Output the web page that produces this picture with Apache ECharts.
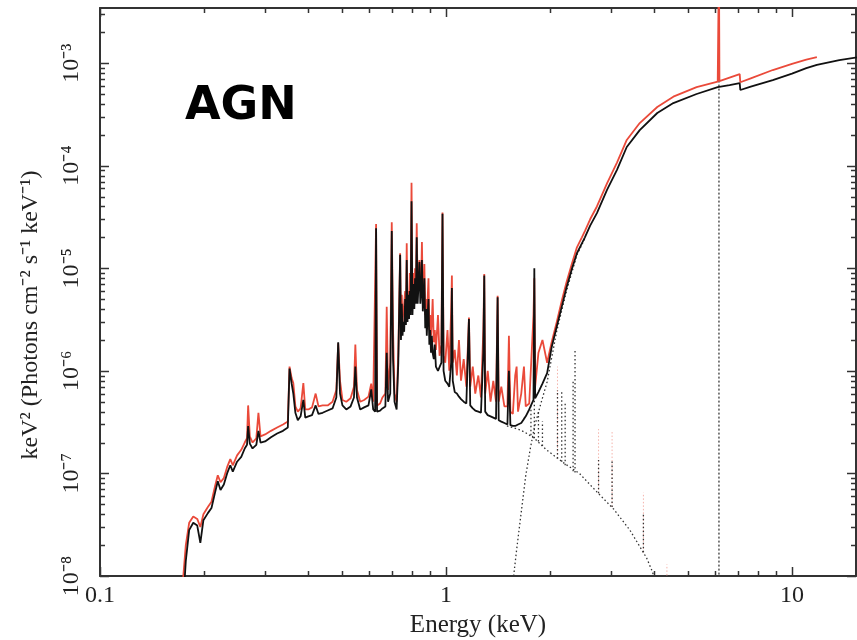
<!DOCTYPE html>
<html>
<head>
<meta charset="utf-8">
<script src="https://cdn.jsdelivr.net/npm/echarts@6/dist/echarts.min.js"></script>
<style>
  html, body { margin: 0; padding: 0; background: #fff; }
  #chart { width: 857px; height: 640px; }
</style>
</head>
<body>
<div id="chart"></div>
<script>
// energy grid (keV) shared by the two total-model curves
var energy = [
  0.172, 0.177, 0.181, 0.186, 0.191, 0.195, 0.199, 0.205, 0.210, 0.215,
  0.219, 0.223, 0.228, 0.233, 0.238, 0.242, 0.249, 0.256, 0.262, 0.266,
  0.268, 0.271, 0.276, 0.283, 0.287, 0.291, 0.300, 0.312, 0.325, 0.338,
  0.349, 0.353, 0.358, 0.362, 0.367, 0.373, 0.380, 0.387, 0.392, 0.400,
  0.410, 0.420, 0.428, 0.440, 0.455, 0.470, 0.482, 0.488, 0.494, 0.502,
  0.515, 0.530, 0.542, 0.547, 0.553, 0.565, 0.580, 0.597, 0.608, 0.616,
  0.624, 0.628, 0.632, 0.645, 0.655, 0.668, 0.674, 0.680, 0.690, 0.697,
  0.703, 0.710, 0.720, 0.728, 0.737, 0.741, 0.745, 0.749, 0.752, 0.757,
  0.762, 0.766, 0.770, 0.774, 0.778, 0.782, 0.786, 0.790, 0.795, 0.800,
  0.805, 0.810, 0.814, 0.818, 0.823, 0.828, 0.833, 0.838, 0.843, 0.848,
  0.852, 0.857, 0.862, 0.866, 0.871, 0.876, 0.880, 0.885, 0.890, 0.895,
  0.900, 0.905, 0.910, 0.915, 0.922, 0.928, 0.935,
  0.948, 0.958, 0.970, 0.977, 0.984, 0.995, 1.010, 1.022, 1.035, 1.040,
  1.046, 1.060, 1.075, 1.090, 1.105, 1.125, 1.145, 1.165, 1.175, 1.195,
  1.215, 1.240, 1.262, 1.282, 1.290, 1.298, 1.320, 1.345, 1.370, 1.395,
  1.410, 1.420, 1.445, 1.475, 1.505, 1.520, 1.535, 1.560, 1.585, 1.600,
  1.615, 1.650, 1.680, 1.700, 1.740, 1.790, 1.800, 1.810, 1.850, 1.900,
  1.960, 2.020, 2.090, 2.160, 2.230, 2.310, 2.390, 2.470, 2.520, 2.610,
  2.730, 2.920, 3.120, 3.330, 3.630, 4.080, 4.540, 5.300, 6.100, 6.130,
  6.150, 6.170, 6.600, 7.060, 7.090, 7.600, 8.800, 10.00, 11.00, 11.80,
  13.70, 15.50
];

// total model, black
var blackFlux = [
  3e-9, 1.4e-8, 2.8e-8, 3.3e-8, 3.1e-8, 2.1e-8, 3.5e-8, 4.1e-8, 4.6e-8, 6.5e-8,
  8.4e-8, 6.9e-8, 7.8e-8, 1.0e-7, 1.2e-7, 1.04e-7, 1.3e-7, 1.45e-7, 1.75e-7, 1.9e-7,
  2.9e-7, 1.95e-7, 1.75e-7, 1.9e-7, 2.6e-7, 2.0e-7, 2.05e-7, 2.25e-7, 2.45e-7, 2.6e-7,
  2.8e-7, 1.05e-6, 7.5e-7, 6.0e-7, 3.9e-7, 3.3e-7, 3.6e-7, 5.2e-7, 3.5e-7, 3.6e-7,
  3.7e-7, 4.6e-7, 3.8e-7, 3.9e-7, 4.1e-7, 4.3e-7, 5.5e-7, 1.9e-6, 6.0e-7, 4.6e-7,
  4.2e-7, 4.5e-7, 5.5e-7, 1.1e-6, 5.5e-7, 4.2e-7, 4.4e-7, 4.6e-7, 6.6e-7, 4.2e-7,
  4.0e-7, 2.45e-5, 4.0e-7, 4.1e-7, 4.3e-7, 4.5e-7, 1.5e-6, 5e-7, 6e-7, 2.3e-5,
  1.3e-6, 5e-7, 4.2e-7, 1.2e-6, 1.35e-5, 2.0e-6, 4.5e-6, 2.2e-6, 3.0e-6, 2.4e-6,
  5.0e-6, 2.8e-6, 1.2e-5, 3.0e-6, 5.5e-6, 3.2e-6, 6e-6, 3.5e-6, 4.5e-5, 3.5e-6,
  7e-6, 4.0e-6, 8e-6, 4.5e-6, 2.0e-5, 4.5e-6, 7e-6, 1.15e-5, 4.5e-6, 6e-6,
  1.2e-5, 3.8e-6, 5e-6, 8e-6, 2.6e-6, 4e-6, 2.2e-6, 3.5e-6, 5e-6, 1.8e-6,
  2.5e-6, 1.5e-6, 2.2e-6, 1.5e-6, 1.3e-6, 1.8e-6, 1.1e-6,
  1.0e-6, 1.0e-6, 1.2e-6, 3.4e-5, 1.0e-6, 8e-7, 7.5e-7, 7e-7, 1.2e-6, 6.4e-6,
  8e-7, 6.2e-7, 6e-7, 5.6e-7, 5.3e-7, 5.0e-7, 4.8e-7, 3.2e-6, 4.6e-7, 4.3e-7,
  4.1e-7, 4.0e-7, 3.9e-7, 1.5e-6, 8.5e-6, 4.0e-7, 3.7e-7, 3.6e-7, 3.5e-7, 3.4e-7,
  5.2e-6, 3.3e-7, 3.2e-7, 3.1e-7, 3.0e-7, 1.0e-6, 2.95e-7, 2.9e-7, 2.9e-7, 3.0e-7,
  3.0e-7, 3.1e-7, 3.4e-7, 3.6e-7, 4.2e-7, 5.2e-7, 1.0e-5, 5.4e-7, 6.2e-7, 7.5e-7,
  9.5e-7, 1.7e-6, 2.7e-6, 4.2e-6, 6.5e-6, 9.8e-6, 1.4e-5, 1.75e-5, 2.0e-5, 2.6e-5,
  3.45e-5, 5.8e-5, 9.1e-5, 1.52e-4, 2.22e-4, 3.26e-4, 4.07e-4, 4.99e-4, 5.83e-4, 5.85e-4,
  5.86e-4, 5.88e-4, 6.1e-4, 6.38e-4, 5.46e-4, 5.9e-4, 6.83e-4, 7.9e-4, 8.94e-4, 9.6e-4,
  1.07e-3, 1.14e-3
];

// total model, red (stops near 12 keV)
var redFlux = [
  6e-9, 2.0e-8, 3.3e-8, 3.8e-8, 3.6e-8, 3.0e-8, 4.0e-8, 4.7e-8, 5.3e-8, 7.5e-8,
  9.6e-8, 8.2e-8, 9.0e-8, 1.15e-7, 1.38e-7, 1.2e-7, 1.5e-7, 1.7e-7, 2.0e-7, 2.2e-7,
  4.6e-7, 2.3e-7, 2.0e-7, 2.2e-7, 3.9e-7, 2.3e-7, 2.4e-7, 2.6e-7, 2.8e-7, 3.0e-7,
  3.2e-7, 1.1e-6, 8.5e-7, 7.6e-7, 4.5e-7, 4.0e-7, 4.3e-7, 7.6e-7, 4.2e-7, 4.2e-7,
  4.4e-7, 6.0e-7, 4.5e-7, 4.6e-7, 4.6e-7, 5.0e-7, 6.5e-7, 1.85e-6, 8.0e-7, 5.2e-7,
  5.0e-7, 5.4e-7, 7.0e-7, 1.8e-6, 6.5e-7, 5.0e-7, 5.2e-7, 5.6e-7, 7.5e-7, 5.0e-7,
  4.8e-7, 2.7e-5, 4.6e-7, 4.8e-7, 5.5e-7, 6e-7, 4.2e-6, 6.5e-7, 1.2e-6, 2.8e-5,
  2.5e-6, 6e-7, 5e-7, 1.5e-6, 1.4e-5, 2.6e-6, 5.5e-6, 3.0e-6, 3.6e-6, 4.5e-6,
  6e-6, 3.5e-6, 1.75e-5, 3.5e-6, 6e-6, 4e-6, 9e-6, 5e-6, 6.8e-5, 4.5e-6,
  9e-6, 6e-6, 1.0e-5, 6e-6, 2.75e-5, 6e-6, 9e-6, 1.2e-5, 6e-6, 8e-6,
  1.8e-5, 5e-6, 6e-6, 1.1e-5, 3.5e-6, 5e-6, 4e-6, 5e-6, 8e-6, 2.5e-6,
  3.5e-6, 2.2e-6, 3e-6, 5e-6, 1.9e-6, 2.5e-6, 1.6e-6,
  3.5e-6, 1.4e-6, 1.8e-6, 3.5e-5, 1.4e-6, 1.2e-6, 2.5e-6, 1.0e-6, 4.0e-6, 8.5e-6,
  1.2e-6, 1.6e-6, 9e-7, 2.0e-6, 8e-7, 1.3e-6, 7e-7, 3.3e-6, 7e-7, 1.1e-6,
  6e-7, 9e-7, 5.5e-7, 2.5e-6, 8.8e-6, 6e-7, 1.0e-6, 5e-7, 8e-7, 5e-7,
  5.4e-6, 5e-7, 7e-7, 4.5e-7, 4.5e-7, 2.2e-6, 4e-7, 3.8e-7, 9e-7, 1.1e-6,
  4e-7, 6e-7, 1.1e-6, 4.5e-7, 4.8e-7, 3.5e-6, 8e-6, 7e-7, 1.5e-6, 2.0e-6,
  1.2e-6, 1.9e-6, 3.0e-6, 4.8e-6, 7.3e-6, 1.1e-5, 1.6e-5, 2.0e-5, 2.3e-5, 3.0e-5,
  4.0e-5, 6.7e-5, 1.07e-4, 1.78e-4, 2.6e-4, 3.73e-4, 4.7e-4, 5.83e-4, 6.6e-4, 6.62e-4,
  1e-2, 6.65e-4, 7.2e-4, 7.8e-4, 6.5e-4, 7.1e-4, 8.55e-4, 9.8e-4, 1.08e-3, 1.14e-3,
  null, null
];

// thermal continuum component (dotted)
var thermalE = [1.50, 1.56, 1.64, 1.71, 1.80, 1.95, 2.20, 2.43, 2.73, 3.05, 3.40, 3.80, 3.95, 4.10];
var thermalFlux = [2.9e-7, 2.8e-7, 2.65e-7, 2.46e-7, 2.2e-7, 1.7e-7, 1.25e-7, 1.0e-7, 6.6e-8, 4.5e-8, 2.8e-8, 1.5e-8, 1.1e-8, 7e-9];

// absorbed power law component (dotted)
var powerE = [1.55, 1.60, 1.65, 1.70, 1.75, 1.80, 1.88, 1.96, 2.09, 2.23, 2.39, 2.52];
var powerFlux = [7e-9, 1.8e-8, 4.2e-8, 9.5e-8, 1.7e-7, 2.8e-7, 4.8e-7, 7.8e-7, 2.45e-6, 6.0e-6, 1.35e-5, 1.95e-5];

// emission line components (dotted, black)
var lineE = [1.76, 1.80, 1.85, 1.90, 2.10, 2.16, 2.21, 2.33, 2.36, 2.76, 3.02, 3.72];
var lineBase = [2.35e-7, 2.2e-7, 2.05e-7, 1.85e-7, 1.4e-7, 1.3e-7, 1.2e-7, 1.05e-7, 1.02e-7, 6.4e-8, 4.7e-8, 1.7e-8];
var lineTop = [4.5e-7, 5.5e-7, 4.0e-7, 3.2e-7, 6.5e-7, 6.2e-7, 5.0e-7, 8.0e-7, 1.65e-6, 1.35e-7, 1.35e-7, 4.1e-8];

// emission line components (dotted, faint red)
var redLineE = [2.10, 2.76, 3.02, 3.72, 4.35];
var redLineBase = [1.4e-7, 6.4e-8, 4.7e-8, 1.7e-8, 5e-9];
var redLineTop = [1.1e-6, 2.7e-7, 2.6e-7, 6.5e-8, 1.3e-8];

// iron line (dotted, full height)
var ironE = 6.15;
var ironFlux = [1e-9, 1e-1];

// axis spans and tick values
var xRange = [0.1, 15.31];
var yRange = [1e-8, 3.44e-3];
var xMajor = [0.1, 1, 10];
var yMajor = [1e-8, 1e-7, 1e-6, 1e-5, 1e-4, 1e-3];

var serif = 'Liberation Serif';
var frame = '#333';
var supMap = { '-': '\u207B', '0': '\u2070', '1': '\u00B9', '2': '\u00B2', '3': '\u00B3', '4': '\u2074',
  '5': '\u2075', '6': '\u2076', '7': '\u2077', '8': '\u2078', '9': '\u2079' };

function sup(n) {
  return String(n).split('').map(function (c) { return supMap[c]; }).join('');
}

function pairs(xs, ys) {
  var out = [];
  for (var i = 0; i < xs.length; i++) {
    if (ys[i] != null) out.push([xs[i], ys[i]]);
  }
  return out;
}

// 2..9 x each decade inside the span
function minorValues(range) {
  var out = [];
  var d0 = Math.floor(Math.log10(range[0]));
  var d1 = Math.ceil(Math.log10(range[1]));
  for (var d = d0; d <= d1; d++) {
    for (var k = 2; k <= 9; k++) {
      var v = k * Math.pow(10, d);
      if (v > range[0] && v < range[1]) out.push(v);
    }
  }
  return out;
}

function axis(kind, pos, extra) {
  var range = kind === 'x' ? xRange : yRange;
  var a = {
    type: 'log', logBase: 10, min: range[0], max: range[1], position: pos,
    axisLine: { show: true, onZero: false, lineStyle: { color: frame, width: 2 } },
    axisTick: { show: false },
    axisLabel: { show: false },
    splitLine: { show: false }
  };
  return Object.assign(a, extra || {});
}

var dotted = { color: '#333', width: 1.3, type: [1.5, 2.5] };

var series = [];

series.push({
  type: 'line', data: pairs(thermalE, thermalFlux),
  showSymbol: false, lineStyle: dotted
});
series.push({
  type: 'line', data: pairs(powerE, powerFlux),
  showSymbol: false, lineStyle: dotted
});
redLineE.forEach(function (e, i) {
  series.push({
    type: 'line', data: [[e, redLineBase[i]], [e, redLineTop[i]]],
    showSymbol: false, lineStyle: { color: '#f4b3ab', width: 1, type: [1.5, 2] }
  });
});
lineE.forEach(function (e, i) {
  series.push({
    type: 'line', data: [[e, lineBase[i]], [e, lineTop[i]]],
    showSymbol: false, lineStyle: dotted
  });
});
series.push({
  type: 'line', data: [[ironE, ironFlux[0]], [ironE, ironFlux[1]]],
  showSymbol: false, lineStyle: { color: '#555', width: 1.5, type: [2, 2] }
});
series.push({
  type: 'line', data: pairs(energy, redFlux),
  showSymbol: false, lineStyle: { color: '#ea4a3a', width: 1.8 }
});
series.push({
  type: 'line', data: pairs(energy, blackFlux),
  showSymbol: false, lineStyle: { color: '#111', width: 1.8 }
});

var chart = echarts.init(document.getElementById('chart'));
chart.setOption({
  animation: false,
  backgroundColor: '#fff',
  grid: { left: 100, right: 1, top: 8, bottom: 64, containLabel: false, outerBoundsMode: 'none' },
  xAxis: [
    axis('x', 'bottom', {
      axisLabel: {
        show: true, margin: 8, fontFamily: serif, fontSize: 24, color: '#222', showMaxLabel: false,
        formatter: function (v) { return String(+v.toPrecision(3)); }
      },
      name: 'Energy (keV)', nameLocation: 'middle', nameGap: 33,
      nameTextStyle: { fontFamily: serif, fontSize: 25, color: '#222' }
    }),
    axis('x', 'top')
  ],
  yAxis: [
    axis('y', 'left', {
      axisLabel: {
        show: true, margin: 16, rotate: 90, fontFamily: serif, fontSize: 24, color: '#222', showMaxLabel: false,
        formatter: function (v) { return '10' + sup(Math.round(Math.log10(v))); }
      }
    }),
    axis('y', 'right')
  ],
  series: series
});

// inward tick marks on all four sides, placed with the chart's own log axes
var graphics = [];
var gx = function (v) { return chart.convertToPixel({ xAxisIndex: 0, yAxisIndex: 0 }, [v, yRange[0]]); };
var gy = function (v) { return chart.convertToPixel({ xAxisIndex: 0, yAxisIndex: 0 }, [xRange[0], v]); };
var corner0 = gx(xRange[0]);
var corner1 = chart.convertToPixel({ xAxisIndex: 0, yAxisIndex: 0 }, [xRange[1], yRange[1]]);
var plotL = corner0[0], plotB = corner0[1], plotR = corner1[0], plotT = corner1[1];
function addTick(x1, y1, x2, y2) {
  graphics.push({ type: 'line', silent: true, z: 100,
    shape: { x1: x1, y1: y1, x2: x2, y2: y2 }, style: { stroke: frame, lineWidth: 1.5 } });
}
function addXTicks(values, len) {
  values.forEach(function (v) {
    var px = Math.round(gx(v)[0]) + 0.5;
    addTick(px, plotB, px, plotB - len);
    addTick(px, plotT, px, plotT + len);
  });
}
function addYTicks(values, len) {
  values.forEach(function (v) {
    var py = Math.round(gy(v)[1]) + 0.5;
    addTick(plotL, py, plotL + len, py);
    addTick(plotR, py, plotR - len, py);
  });
}
addXTicks(xMajor, 9);
addXTicks(minorValues(xRange), 5);
addYTicks(yMajor, 9);
addYTicks(minorValues(yRange), 5);

graphics.push({
  type: 'text', left: 185, top: 84,
  style: { text: 'AGN', font: 'bold 46px "DejaVu Sans"', fill: '#000' }
});
graphics.push({
  type: 'text', x: 31, y: 315, rotation: Math.PI / 2,
  style: {
    text: 'keV\u00B2 (Photons cm\u207B\u00B2 s\u207B\u00B9 keV\u207B\u00B9)',
    font: '24px "Liberation Serif"', fill: '#222', align: 'center', verticalAlign: 'middle'
  }
});

chart.setOption({ graphic: graphics });
</script>
</body>
</html>
